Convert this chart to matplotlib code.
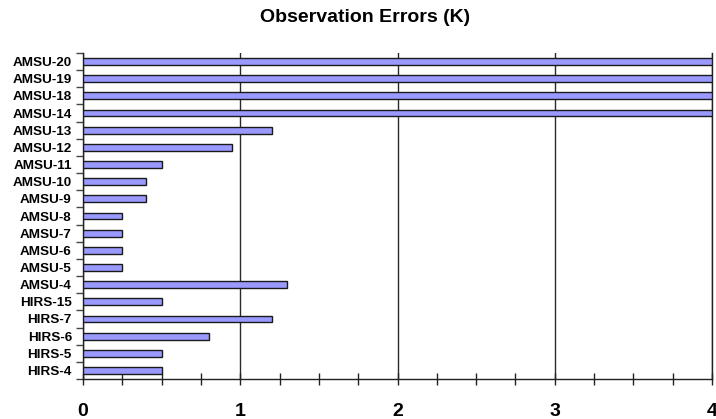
import numpy as np
import matplotlib
matplotlib.use('Agg')
import matplotlib.pyplot as plt
from matplotlib.ticker import MultipleLocator, FixedLocator

plt.rcParams['font.family'] = ['Liberation Sans', 'DejaVu Sans']
plt.rcParams['font.weight'] = 'bold'

# Channels, top to bottom, and their assigned errors
channels = ['AMSU-20', 'AMSU-19', 'AMSU-18', 'AMSU-14', 'AMSU-13', 'AMSU-12',
            'AMSU-11', 'AMSU-10', 'AMSU-9', 'AMSU-8', 'AMSU-7', 'AMSU-6',
            'AMSU-5', 'AMSU-4', 'HIRS-15', 'HIRS-7', 'HIRS-6', 'HIRS-5', 'HIRS-4']
errors = [4.0, 4.0, 4.0, 4.0, 1.2, 0.95,
          0.5, 0.4, 0.4, 0.25, 0.25, 0.25,
          0.25, 1.3, 0.5, 1.2, 0.8, 0.5, 0.5]
x_ticks = [0, 1, 2, 3, 4]

fig = plt.figure(figsize=(7.16, 4.19), dpi=100)
ax = fig.add_axes([83/716, 1 - 379/419, 629/716, 326/419])

y = np.arange(len(channels))[::-1]
ax.barh(y, errors, height=0.4, color='#9999ff', edgecolor='#1a1a1a', lw=1, zorder=3)

ax.set_xlim(0, 4)
ax.set_ylim(-0.5, len(channels) - 0.5)

ax.xaxis.set_major_locator(FixedLocator(x_ticks))
ax.xaxis.set_minor_locator(MultipleLocator(0.25))
ax.set_xticklabels([str(t) for t in x_ticks], fontsize=14, fontweight='bold')
ax.tick_params(axis='x', which='major', direction='inout', length=9, width=1, pad=13, color='#222222')
ax.tick_params(axis='x', which='minor', direction='inout', length=8, width=1, color='#222222')

ax.set_yticks(y)
ax.set_yticklabels(channels, fontsize=9.7, fontweight='bold')
ax.yaxis.set_minor_locator(FixedLocator(np.arange(-0.5, len(channels), 1.0)))
ax.tick_params(axis='y', which='major', length=0, pad=8)
ax.tick_params(axis='y', which='minor', direction='out', length=5, width=1, color='#444444')

ax.xaxis.grid(True, which='major', color='#2a2a2a', lw=1, zorder=1)
ax.spines['top'].set_visible(False)
for s in ['left', 'bottom', 'right']:
    ax.spines[s].set_color('#222222')
    ax.spines[s].set_linewidth(1)

fig.text(365/716, 1 - 17/419, 'Observation Errors (K)', ha='center', va='center',
         fontsize=14, fontweight='bold')

fig.savefig('out.png', dpi=100)
